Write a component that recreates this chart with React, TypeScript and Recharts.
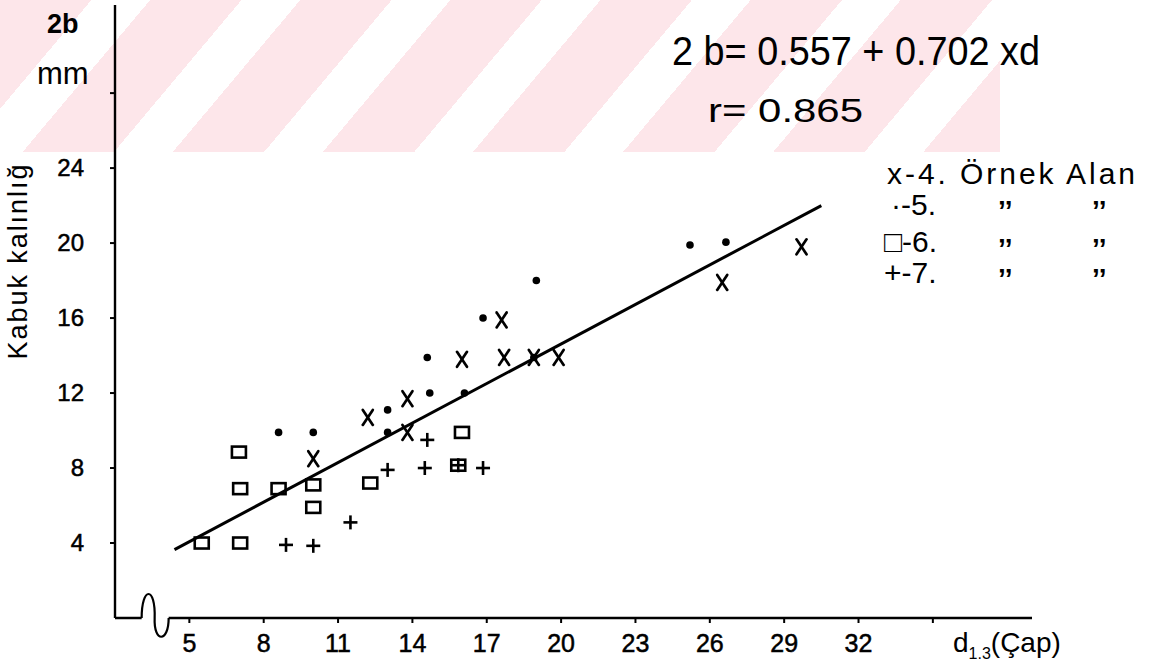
import { ScatterChart, Scatter, XAxis, YAxis, ReferenceLine, ReferenceDot, Customized } from 'recharts'

// 4. Örnek Alan (x)
const alan4 = [
  { d: 10, b: 8.5 }, { d: 12.2, b: 10.7 }, { d: 13.8, b: 11.7 }, { d: 13.8, b: 9.9 },
  { d: 16.0, b: 13.8 }, { d: 17.6, b: 15.9 }, { d: 17.7, b: 13.9 }, { d: 18.9, b: 13.9 },
  { d: 19.9, b: 13.9 }, { d: 26.5, b: 17.9 }, { d: 29.7, b: 19.8 },
]
// 5. (dots)
const alan5 = [
  { d: 8.6, b: 9.9 }, { d: 10, b: 9.9 }, { d: 13.0, b: 11.1 }, { d: 13.0, b: 9.9 },
  { d: 14.6, b: 13.9 }, { d: 14.7, b: 12.0 }, { d: 16.1, b: 12.0 }, { d: 16.85, b: 16.0 },
  { d: 18.9, b: 13.9 }, { d: 19.0, b: 18.0 }, { d: 25.2, b: 19.9 }, { d: 26.65, b: 20.05 },
]
// 6. (squares)
const alan6 = [
  { d: 5.5, b: 4 }, { d: 7.05, b: 4 }, { d: 7.0, b: 8.85 }, { d: 7.05, b: 6.9 },
  { d: 8.6, b: 6.9 }, { d: 10, b: 7.1 }, { d: 10, b: 5.9 }, { d: 12.3, b: 7.2 },
  { d: 16.0, b: 9.9 }, { d: 15.85, b: 8.15 },
]
// 7. (plus)
const alan7 = [
  { d: 8.9, b: 3.9 }, { d: 10, b: 3.85 }, { d: 11.5, b: 5.1 }, { d: 13.0, b: 7.9 },
  { d: 14.5, b: 8.0 }, { d: 14.6, b: 9.5 }, { d: 15.85, b: 8.15 }, { d: 16.85, b: 8.0 },
]
// ends of the fitted line 2b = 0.557 + 0.702 d, as drawn
const fitLine = [{ d: 4.4, b: 3.65 }, { d: 30.5, b: 22.0 }]

const xTicks = [5, 8, 11, 14, 17, 20, 23, 26, 29, 32, 35]
const yTicks = [4, 8, 12, 16, 20, 24, 28]

const FONT = '"Liberation Sans", Arial, sans-serif'
const INK = '#000'

const XMark = ({ cx, cy }: any) => (
  <g stroke={INK} strokeWidth={2.7} strokeLinecap="round">
    <line x1={cx - 5} y1={cy - 7.5} x2={cx + 5} y2={cy + 7.5} />
    <line x1={cx + 5} y1={cy - 7.5} x2={cx - 5} y2={cy + 7.5} />
  </g>
)
const DotMark = ({ cx, cy }: any) => <circle cx={cx} cy={cy} r={3.8} fill={INK} />
const SquareMark = ({ cx, cy }: any) => (
  <rect x={cx - 7} y={cy - 5.5} width={14} height={11} fill="none" stroke={INK} strokeWidth={2.6} />
)
const PlusMark = ({ cx, cy }: any) => (
  <g stroke={INK} strokeWidth={2.6}>
    <line x1={cx - 7} y1={cy} x2={cx + 7} y2={cy} />
    <line x1={cx} y1={cy - 7} x2={cx} y2={cy + 7} />
  </g>
)
const BreakMark = ({ cx, cy }: any) => (
  <g>
    <rect x={cx - 13} y={cy - 3} width={27} height={6} fill="#fff" />
    <path
      d={`M${cx - 13},${cy} C${cx - 13},${cy - 32} ${cx + 1},${cy - 32} ${cx},${cy} C${cx - 1},${cy + 25} ${cx + 14},${cy + 25} ${cx + 14},${cy}`}
      fill="none" stroke={INK} strokeWidth={2.2}
    />
  </g>
)

const YTick = ({ x, y, payload }: any) =>
  payload.value === 28 ? null : (
    <text x={x - 24} y={y} dy={8} textAnchor="end" fontSize={24} fontFamily={FONT}
      fill={INK} stroke={INK} strokeWidth={0.5}>
      {payload.value}
    </text>
  )
const XTick = ({ x, y, payload }: any) =>
  payload.value === 35 ? null : (
    <text x={x} y={y} dy={27} textAnchor="middle" fontSize={25} fontFamily={FONT}
      fill={INK} stroke={INK} strokeWidth={0.5}>
      {payload.value}
    </text>
  )

const ditto = '\u2019\u2019'

const Notes = () => (
  <g fontFamily={FONT} fill={INK}>
    <text x={47} y={33} fontSize={27} fontWeight="bold">2b</text>
    <text x={37} y={84} fontSize={31}>mm</text>
    <text transform="translate(27,262) rotate(-90)" textAnchor="middle" fontSize={27} textLength={195}>Kabuk kalınlığ</text>
    <text x={672} y={65} fontSize={40} textLength={368} lengthAdjust="spacingAndGlyphs">2 b= 0.557 + 0.702 xd</text>
    <text x={708} y={122} fontSize={33} textLength={155} lengthAdjust="spacingAndGlyphs">r= 0.865</text>
    <text x={887} y={184} fontSize={30} textLength={248}>x-4. Örnek Alan</text>
    <text x={891} y={215} fontSize={30}>·-5.</text>
    <text x={884} y={252} fontSize={30}>□-6.</text>
    <text x={884} y={283} fontSize={30}>+-7.</text>
    <text x={998} y={220} fontSize={28} fontWeight="bold">{ditto}</text>
    <text x={1092} y={220} fontSize={28} fontWeight="bold">{ditto}</text>
    <text x={998} y={258} fontSize={28} fontWeight="bold">{ditto}</text>
    <text x={1092} y={258} fontSize={28} fontWeight="bold">{ditto}</text>
    <text x={998} y={288} fontSize={28} fontWeight="bold">{ditto}</text>
    <text x={1092} y={288} fontSize={28} fontWeight="bold">{ditto}</text>
    <text x={953} y={652} fontSize={28}>
      d<tspan fontSize={16} dy={7}>1.3</tspan><tspan dy={-7}>(Çap)</tspan>
    </text>
  </g>
)

export default function App() {
  return (
    <div style={{ position: 'absolute', left: 0, top: 0, width: 1158, height: 670, background: '#fff' }}>
      <div
        style={{
          position: 'absolute', left: 0, top: 0, width: 1000, height: 152,
          background: 'repeating-linear-gradient(130deg, #fde6ea 0px, #fde6ea 70px, #ffffff 70px, #ffffff 115px)',
        }}
      />
      <div style={{ position: 'absolute', left: 0, top: 0 }}>
        <ScatterChart width={1158} height={670} margin={{ top: 5, right: 126, bottom: 12, left: 55 }}>
          <XAxis
            type="number" dataKey="d" domain={[2, 39]} ticks={xTicks} allowDataOverflow
            height={40} tickSize={5}
            axisLine={{ stroke: INK, strokeWidth: 2.4 }} tickLine={{ stroke: INK, strokeWidth: 2 }}
            tick={XTick}
          />
          <YAxis
            type="number" dataKey="b" domain={[0, 32.7]} ticks={yTicks} allowDataOverflow
            width={60} tickSize={5}
            axisLine={{ stroke: INK, strokeWidth: 2.4 }} tickLine={{ stroke: INK, strokeWidth: 2 }}
            tick={YTick}
          />
          <ReferenceLine
            segment={[{ x: fitLine[0].d, y: fitLine[0].b }, { x: fitLine[1].d, y: fitLine[1].b }]}
            stroke={INK} strokeWidth={3} ifOverflow="visible"
          />
          <ReferenceDot x={3.6} y={0} ifOverflow="visible" shape={BreakMark} />
          <Scatter name="4" data={alan4} shape={XMark} isAnimationActive={false} />
          <Scatter name="5" data={alan5} shape={DotMark} isAnimationActive={false} />
          <Scatter name="6" data={alan6} shape={SquareMark} isAnimationActive={false} />
          <Scatter name="7" data={alan7} shape={PlusMark} isAnimationActive={false} />
          <Customized component={Notes} />
        </ScatterChart>
      </div>
    </div>
  )
}
